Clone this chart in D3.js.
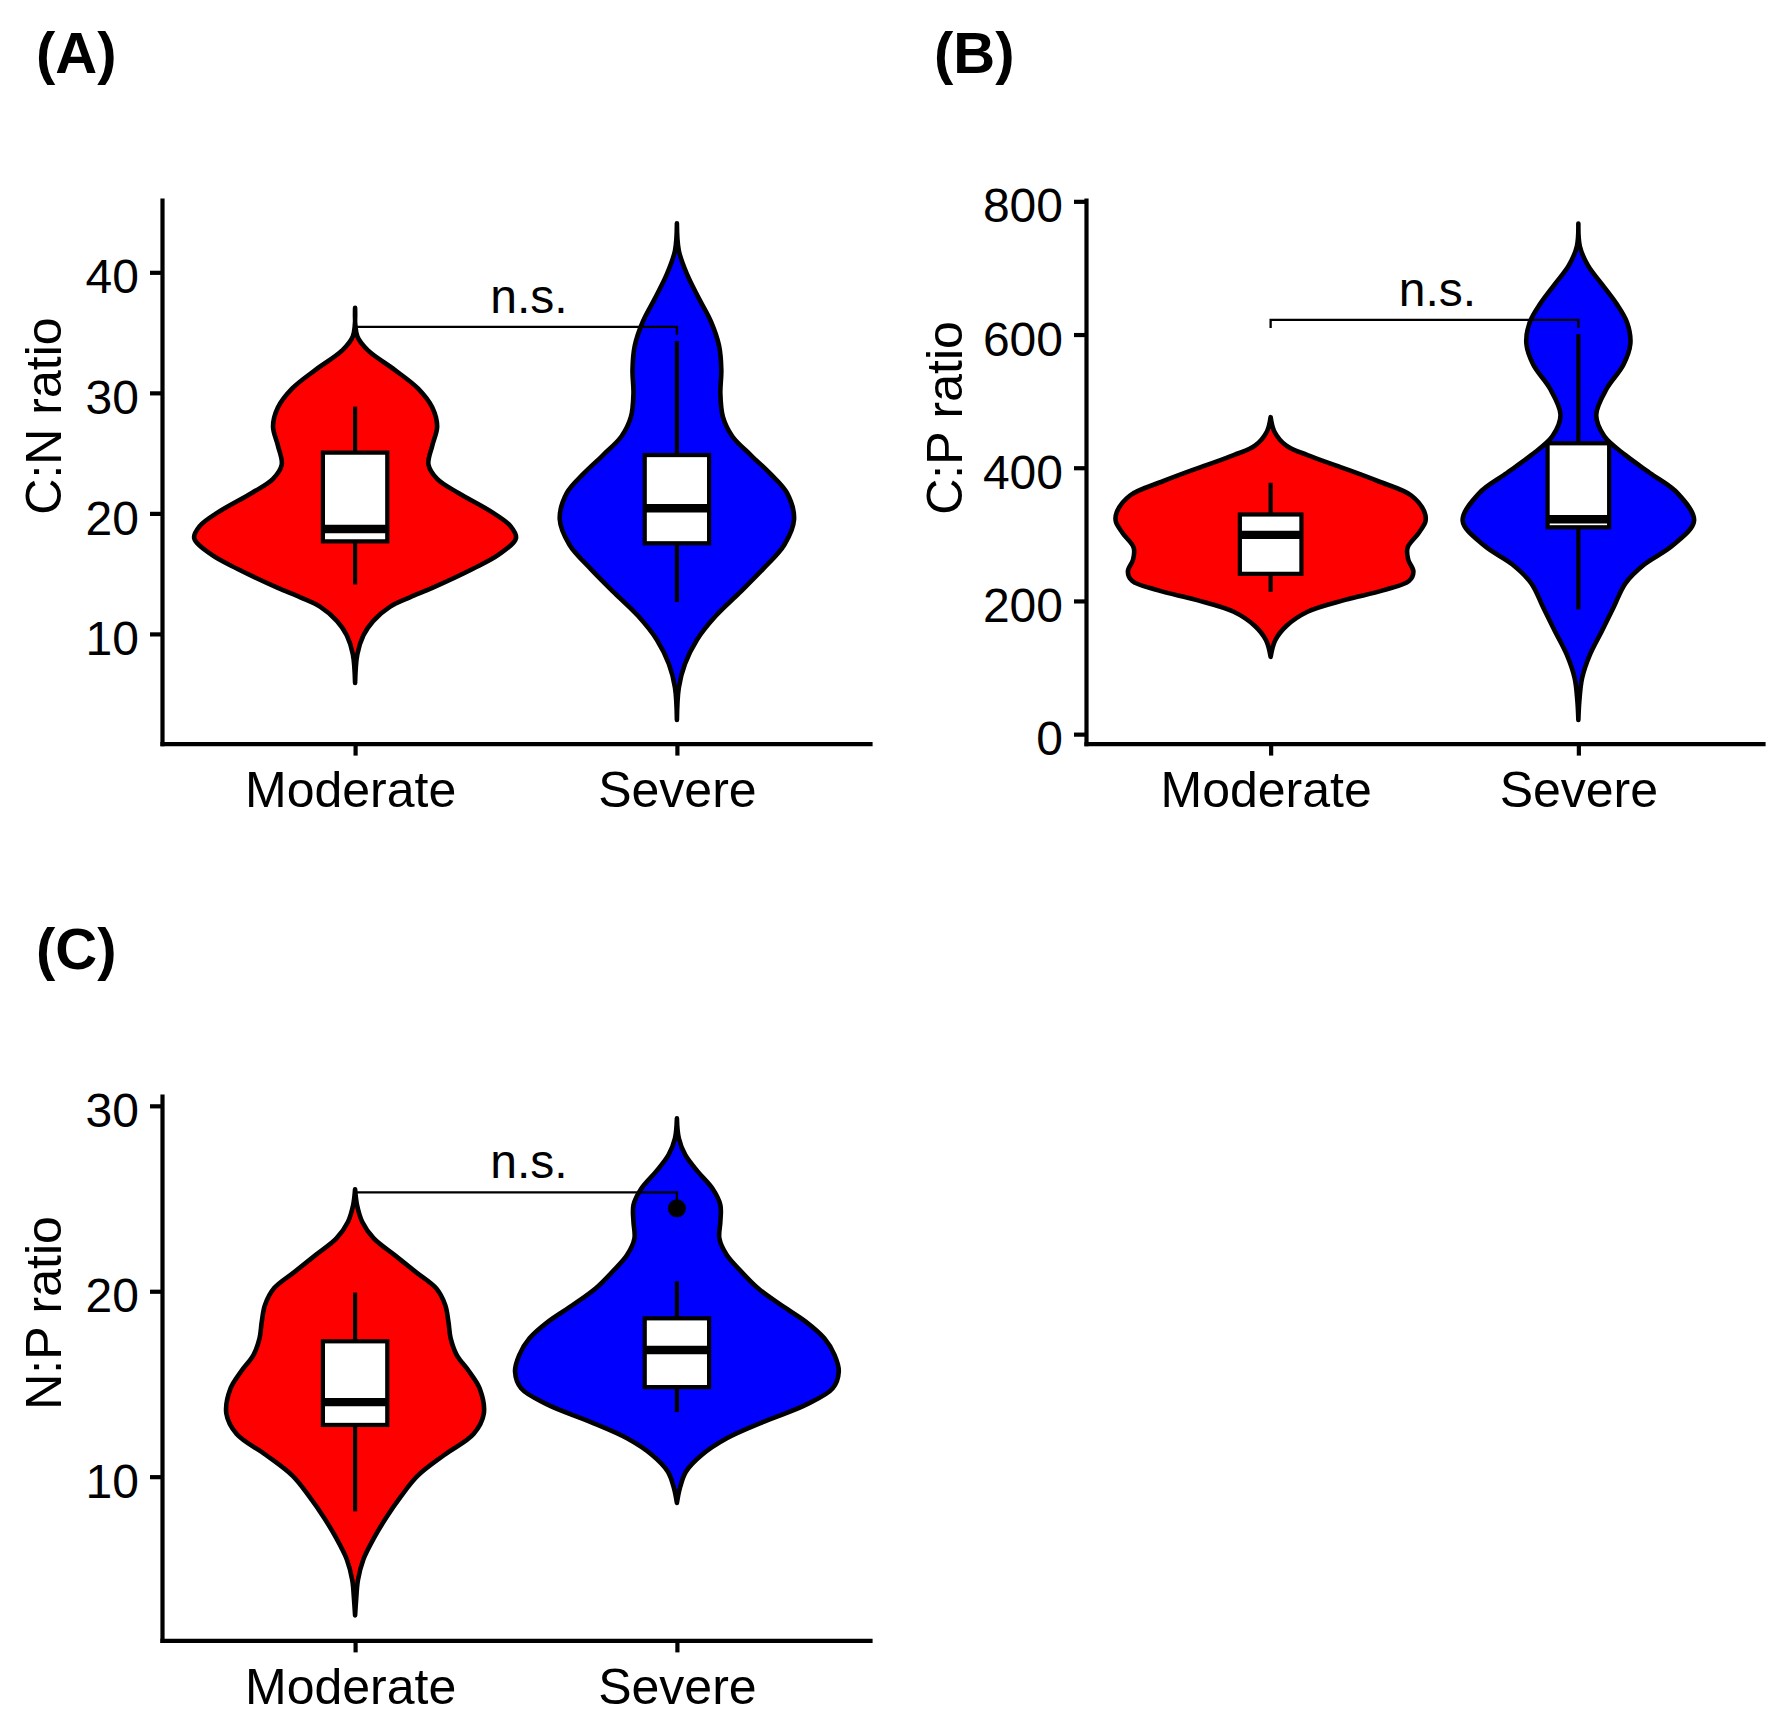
<!DOCTYPE html>
<html><head><meta charset="utf-8">
<script src="https://cdn.jsdelivr.net/npm/d3@7"></script>
<style>
body{margin:0;background:#fff}
svg{display:block}
text{font-family:"Liberation Sans",Arial,Helvetica,sans-serif;fill:#000}
</style>
</head><body>
<svg id="chart" width="1787" height="1731"></svg>
<script>
// ---------------- DATA ----------------
const categories = ["Moderate", "Severe"];
const fillColors = ["#FF0000", "#0000FF"];
const panelTags = ["(A)", "(B)", "(C)"];
const yTitles = ["C:N ratio", "C:P ratio", "N:P ratio"];
const sigLabel = "n.s.";

const yTicksA = [10, 20, 30, 40];
const yTicksB = [0, 200, 400, 600, 800];
const yTicksC = [10, 20, 30];

const yDomainA = [0.9, 46.0];
const yDomainB = [-14.2, 802];
const yDomainC = [1.17, 30.53];

// violin outlines: [value, half-width as fraction of category step]
const violinA_Moderate = [[37.05,0],[34.69,0.007],[33.5,0.041],[31.93,0.122],[30.35,0.196],[28.78,0.24],[27.2,0.255],[25.63,0.24],[24.05,0.228],[22.87,0.255],[21.69,0.321],[20.12,0.424],[18.94,0.483],[17.95,0.5],[16.57,0.446],[15.39,0.365],[13.82,0.24],[13.03,0.17],[12.24,0.108],[11.06,0.056],[9.88,0.026],[8.31,0.007],[5.94,0]];
const violinA_Severe = [[44.06,0],[41.8,0.006],[39.8,0.032],[37.8,0.069],[35.9,0.106],[33.9,0.131],[31.9,0.138],[29.96,0.135],[28.0,0.143],[26.4,0.172],[24.8,0.231],[23.3,0.29],[21.7,0.342],[19.5,0.364],[17.4,0.334],[15.4,0.268],[13.4,0.194],[11.5,0.121],[9.5,0.062],[7.5,0.025],[5.55,0.006],[2.87,0]];
const violinB_Moderate = [[475.9,0],[454.5,0.012],[433.1,0.051],[418.9,0.12],[401,0.227],[379.7,0.35],[358.3,0.457],[333.4,0.5],[319.1,0.503],[301.3,0.48],[279.9,0.445],[262.1,0.447],[244.3,0.464],[230.1,0.45],[215.8,0.365],[201.6,0.242],[183.8,0.12],[162.4,0.051],[141,0.015],[116.1,0]];
const violinB_Severe = [[766.5,0],[732.3,0.005],[703.8,0.031],[675.3,0.077],[646.8,0.123],[618.3,0.158],[586.3,0.169],[554.2,0.146],[518.6,0.092],[479.4,0.058],[447.4,0.084],[418.9,0.153],[390.4,0.238],[361.9,0.322],[320.5,0.376],[283.5,0.307],[255,0.215],[226.5,0.153],[190.9,0.115],[155.3,0.077],[119.7,0.038],[84.0,0.012],[48.4,0.003],[21.3,0]];
const violinC_Moderate = [[25.5,0],[24.65,0.006],[23.75,0.022],[22.85,0.058],[21.95,0.123],[21.06,0.187],[20.16,0.252],[19.26,0.28],[18.36,0.29],[17.46,0.297],[16.56,0.316],[15.66,0.355],[14.76,0.387],[13.4,0.40],[12.3,0.368],[11.17,0.277],[10.04,0.194],[8.92,0.142],[7.8,0.097],[6.67,0.058],[5.55,0.026],[4.43,0.009],[3.3,0.003],[2.52,0]];
const violinC_Severe = [[29.33,0],[28.25,0.006],[27.35,0.026],[26.45,0.065],[25.55,0.11],[24.65,0.135],[23.75,0.135],[22.85,0.132],[21.95,0.155],[21.06,0.2],[20.16,0.252],[19.26,0.323],[18.36,0.4],[17.46,0.458],[16.56,0.49],[15.66,0.503],[14.76,0.484],[13.87,0.4],[12.97,0.271],[12.07,0.155],[11.17,0.077],[10.27,0.028],[9.37,0.009],[8.58,0]];

// box stats: [lower whisker, Q1, median, Q3, upper whisker]
const boxA = [[14.1, 17.68, 18.7, 25.04, 28.86], [12.64, 17.52, 20.43, 24.84, 34.3]];
const boxB = [[213.7, 240.7, 299.2, 329.8, 377.5], [187.3, 310.6, 322.7, 436.7, 600.5]];
const boxC = [[8.13, 12.79, 14.02, 17.3, 19.93], [13.48, 14.83, 16.83, 18.54, 20.54]];
const outliersA = [[], []];
const outliersB = [[], []];
const outliersC = [[], [24.47]];

const bracketValues = [35.47, 621.9, 25.33];

// ---------------- LAYOUT ----------------
const panels = [
  {tag: panelTags[0], title: yTitles[0], ticks: yTicksA, dom: yDomainA, violins: [violinA_Moderate, violinA_Severe], box: boxA, out: outliersA, br: bracketValues[0],
   xr: [162, 870], yr: [743.6, 200], tagPos: [36, 73], titlePos: [61, 416]},
  {tag: panelTags[1], title: yTitles[1], ticks: yTicksB, dom: yDomainB, violins: [violinB_Moderate, violinB_Severe], box: boxB, out: outliersB, br: bracketValues[1],
   xr: [1086, 1763], yr: [743.6, 200], tagPos: [934, 73], titlePos: [962, 418]},
  {tag: panelTags[2], title: yTitles[2], ticks: yTicksC, dom: yDomainC, violins: [violinC_Moderate, violinC_Severe], box: boxC, out: outliersC, br: bracketValues[2],
   xr: [162, 870], yr: [1640.4, 1096], tagPos: [36, 969], titlePos: [61, 1313]}
];

const svg = d3.select("#chart");
const VLW = 4.6;   // violin outline
const BLW = 4.2;   // box & whisker

function drawPanel(p) {
  const x = d3.scalePoint().domain(categories).range(p.xr).padding(0.6);
  const step = x.step();
  const y = d3.scaleLinear().domain(p.dom).range(p.yr);
  const g = svg.append("g");

  // violins
  p.violins.forEach((prof, i) => {
    const cx = x(categories[i]);
    const area = d3.area()
      .y(d => y(d[0]))
      .x0(d => cx - d[1] * step)
      .x1(d => cx + d[1] * step)
      .curve(d3.curveCatmullRom.alpha(0.5));
    g.append("path").attr("d", area(prof))
      .attr("fill", fillColors[i]).attr("stroke", "#000")
      .attr("stroke-width", VLW).attr("stroke-linejoin", "round");
  });

  // boxplots
  const bw = 0.1 * step;
  p.box.forEach((b, i) => {
    const cx = x(categories[i]);
    const [lo, q1, med, q3, hi] = b;
    g.append("line").attr("x1", cx).attr("x2", cx).attr("y1", y(hi)).attr("y2", y(q3))
      .attr("stroke", "#000").attr("stroke-width", BLW);
    g.append("line").attr("x1", cx).attr("x2", cx).attr("y1", y(q1)).attr("y2", y(lo))
      .attr("stroke", "#000").attr("stroke-width", BLW);
    g.append("rect").attr("x", cx - bw).attr("width", 2 * bw)
      .attr("y", y(q3)).attr("height", y(q1) - y(q3))
      .attr("fill", "#fff").attr("stroke", "#000").attr("stroke-width", BLW);
    g.append("line").attr("x1", cx - bw).attr("x2", cx + bw).attr("y1", y(med)).attr("y2", y(med))
      .attr("stroke", "#000").attr("stroke-width", 2 * BLW);
    p.out[i].forEach(v => {
      g.append("circle").attr("cx", cx).attr("cy", y(v)).attr("r", 9).attr("fill", "#000");
    });
  });

  // significance bracket
  const x1 = x(categories[0]), x2 = x(categories[1]), by = y(p.br), tip = 8;
  g.append("path").attr("d", `M${x1},${by + tip}V${by}H${x2}V${by + tip}`)
    .attr("fill", "none").attr("stroke", "#000").attr("stroke-width", 2.3);
  g.append("text").attr("x", (x1 + x2) / 2 + 13).attr("y", by - 14)
    .attr("text-anchor", "middle").attr("font-size", 48).text(sigLabel);

  // axes
  const ay = g.append("g").attr("transform", `translate(${p.xr[0]},0)`)
    .call(d3.axisLeft(y).tickValues(p.ticks).tickSize(12).tickSizeOuter(0).tickPadding(11));
  const ax = g.append("g").attr("transform", `translate(0,${p.yr[0]})`)
    .call(d3.axisBottom(x).tickSize(12).tickSizeOuter(0).tickPadding(16));
  [ay, ax].forEach(a => {
    a.select(".domain").attr("stroke", "#000").attr("stroke-width", 4.2).attr("stroke-linecap", "square");
    a.selectAll(".tick line").attr("stroke", "#000").attr("stroke-width", 4.2);
    a.selectAll("text").attr("fill", "#000").style("font-family", '"Liberation Sans",Arial,sans-serif');
  });
  ay.selectAll("text").attr("font-size", 48).attr("dy", "0.43em");
  ax.selectAll("text").attr("font-size", 50).attr("dx", (d, i) => i === 0 ? -5 : 0);

  // axis title
  g.append("text").attr("transform", `translate(${p.titlePos[0]},${p.titlePos[1]}) rotate(-90)`)
    .attr("text-anchor", "middle").attr("font-size", 50).text(p.title);

  // panel tag
  g.append("text").attr("x", p.tagPos[0]).attr("y", p.tagPos[1])
    .attr("font-size", 58).attr("font-weight", "bold").text(p.tag);
}

panels.forEach(drawPanel);
</script>
</body></html>
